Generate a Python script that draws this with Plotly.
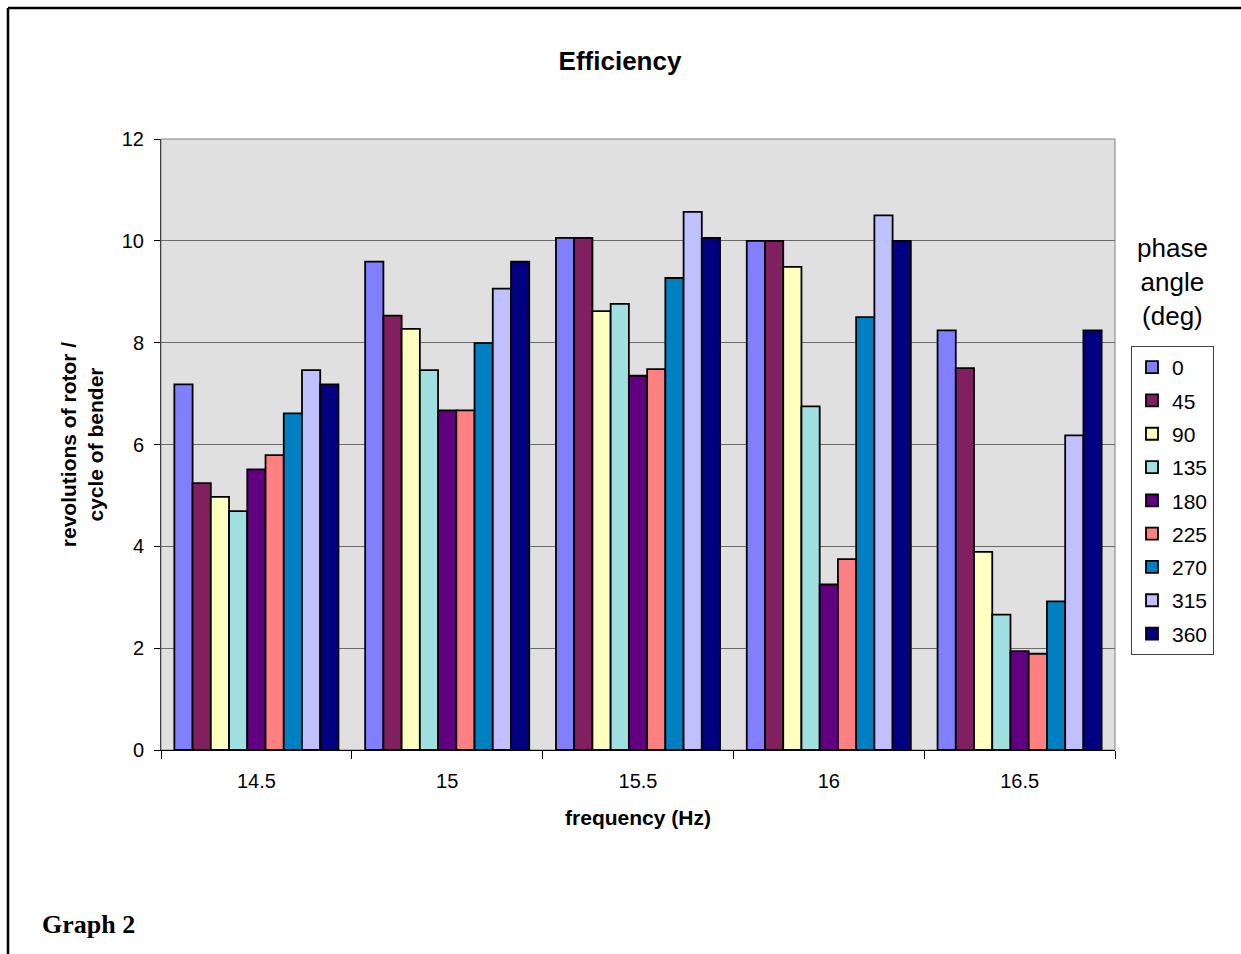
import plotly.graph_objects as go

frequencies = ["14.5", "15", "15.5", "16", "16.5"]
phase_angles = ["0", "45", "90", "135", "180", "225", "270", "315", "360"]

v_0 = [7.18, 9.59, 10.06, 10.0, 8.24]
v_45 = [5.24, 8.53, 10.06, 10.0, 7.50]
v_90 = [4.97, 8.27, 8.62, 9.49, 3.89]
v_135 = [4.69, 7.46, 8.76, 6.75, 2.66]
v_180 = [5.51, 6.67, 7.35, 3.25, 1.94]
v_225 = [5.79, 6.67, 7.48, 3.75, 1.89]
v_270 = [6.61, 7.99, 9.27, 8.50, 2.92]
v_315 = [7.46, 9.06, 10.57, 10.50, 6.18]
v_360 = [7.18, 9.59, 10.06, 10.0, 8.24]

series = [v_0, v_45, v_90, v_135, v_180, v_225, v_270, v_315, v_360]
colors = ["#8080FF", "#802060", "#FFFFC0", "#A0E0E0", "#600080",
          "#FF8080", "#0080C0", "#C0C0FF", "#000080"]

W, H = 1241, 954
L, R, T, B = 161, 1115, 139, 750

fig = go.Figure()
for name, vals, col in zip(phase_angles, series, colors):
    fig.add_trace(go.Bar(
        x=frequencies, y=vals, name=name, legendgroup=name,
        marker=dict(color=col, line=dict(color="black", width=1.8)),
    ))

def px_x(p):
    return (p - L) / (R - L)

def px_y(p):
    return (B - p) / (B - T)

fig.update_layout(
    width=W, height=H,
    margin=dict(l=L, r=W - R, t=T, b=H - B, autoexpand=False),
    paper_bgcolor="white",
    plot_bgcolor="#E0E0E0",
    barmode="group",
    bargap=0.14,
    bargroupgap=0,
    font=dict(family="Arial, Liberation Sans, sans-serif", color="black", size=20),
    title=dict(text="<b>Efficiency</b>", x=620 / W, xanchor="center",
               y=1 - 61 / H, yanchor="middle", font=dict(size=26)),
    xaxis=dict(
        type="category", showline=True, linecolor="black", linewidth=1,
        ticks="outside", ticklen=8, tickcolor="black", tickson="boundaries",
        showgrid=False, tickfont=dict(size=20), ticklabelstandoff=13,
        title=dict(text="<b>frequency (Hz)</b>", font=dict(size=21), standoff=19),
    ),
    yaxis=dict(
        range=[0, 12], dtick=2, showline=True, linecolor="#404040", linewidth=1,
        ticks="outside", ticklen=6, tickcolor="black", ticklabelstandoff=6,
        showgrid=True, gridcolor="#6a6a6a", gridwidth=1,
        zeroline=False, tickfont=dict(size=20),
        title=dict(text="<b>revolutions of rotor /<br>cycle of bender</b>",
                   font=dict(size=21), standoff=12),
    ),
    legend=dict(
        x=px_x(1131), y=px_y(346), xanchor="left", yanchor="top",
        bordercolor="#404040", borderwidth=1, bgcolor="white",
        font=dict(size=21), tracegroupgap=3, itemwidth=30,
    ),
    shapes=[
        dict(type="rect", xref="paper", yref="paper", x0=0, x1=1, y0=0, y1=1,
             line=dict(color="#808080", width=1), layer="below"),
        dict(type="line", xref="paper", yref="paper",
             x0=px_x(8), x1=px_x(1260), y0=px_y(8), y1=px_y(8),
             line=dict(color="black", width=2.5)),
        dict(type="line", xref="paper", yref="paper",
             x0=px_x(8), x1=px_x(8), y0=px_y(8), y1=px_y(970),
             line=dict(color="black", width=2.5)),
    ],
    annotations=[
        dict(text="phase<br>angle<br>(deg)", xref="paper", yref="paper",
             x=px_x(1172), y=px_y(282), xanchor="center", yanchor="middle",
             showarrow=False, font=dict(size=26)),
        dict(text="<b>Graph 2</b>", xref="paper", yref="paper",
             x=px_x(40), y=px_y(924), xanchor="left", yanchor="middle",
             showarrow=False,
             font=dict(family="Liberation Serif, Times New Roman, serif", size=26)),
    ],
)

fig.write_html("out.html",
               config={"displayModeBar": False},
               post_script="document.body.style.margin='0';document.body.style.overflow='hidden';")
